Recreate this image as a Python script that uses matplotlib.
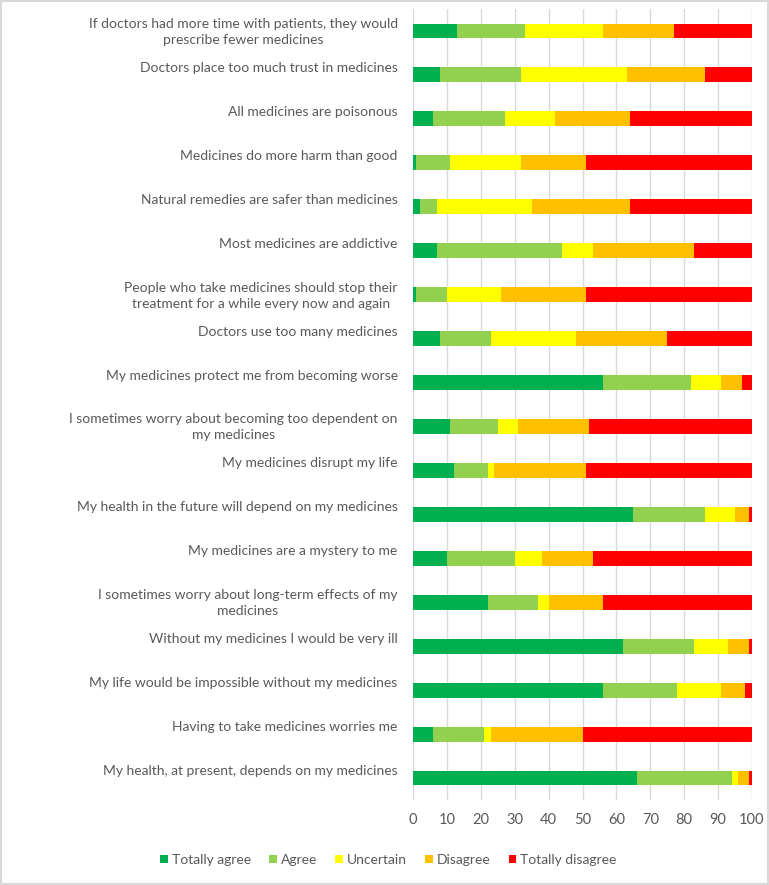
import matplotlib
matplotlib.use("Agg")
import matplotlib.pyplot as plt
from matplotlib.patches import Rectangle
from matplotlib.transforms import ScaledTranslation
import numpy as np

# statements, top to bottom as shown in the chart
statements = [
    "If doctors had more time with patients, they would\nprescribe fewer medicines",
    "Doctors place too much trust in medicines",
    "All medicines are poisonous",
    "Medicines do more harm than good",
    "Natural remedies are safer than medicines",
    "Most medicines are addictive",
    "People who take medicines should stop their\ntreatment for a while every now and again",
    "Doctors use too many medicines",
    "My medicines protect me from becoming worse",
    "I sometimes worry about becoming too dependent on\nmy medicines",
    "My medicines disrupt my life",
    "My health in the future will depend on my medicines",
    "My medicines are a mystery to me",
    "I sometimes worry about long-term effects of my\nmedicines",
    "Without my medicines I would be very ill",
    "My life would be impossible without my medicines",
    "Having to take medicines worries me",
    "My health, at present, depends on my medicines",
]

totally_agree = [13, 8, 6, 1, 2, 7, 1, 8, 56, 11, 12, 65, 10, 22, 62, 56, 6, 66]
agree = [20, 24, 21, 10, 5, 37, 9, 15, 26, 14, 10, 21, 20, 15, 21, 22, 15, 28]
uncertain = [23, 31, 15, 21, 28, 9, 16, 25, 9, 6, 2, 9, 8, 3, 10, 13, 2, 2]
disagree = [21, 23, 22, 19, 29, 30, 25, 27, 6, 21, 27, 4, 15, 16, 6, 7, 27, 3]
totally_disagree = [23, 14, 36, 49, 36, 17, 49, 25, 3, 48, 49, 1, 47, 44, 1, 2, 50, 1]

series_names = ["Totally agree", "Agree", "Uncertain", "Disagree", "Totally disagree"]
colors = ["#00B050", "#92D050", "#FFFF00", "#FFC000", "#FF0000"]

plt.rcParams['font.family'] = ['Lato', 'DejaVu Sans']
grey = "#595959"

fig = plt.figure(figsize=(7.69, 8.85), dpi=100)
ax = fig.add_axes([413 / 769, 1 - 800 / 885, (752 - 413) / 769, (800 - 9) / 885])

y = np.arange(len(statements))
left = np.zeros(len(statements))
for name, vals, c in zip(series_names, [totally_agree, agree, uncertain, disagree, totally_disagree], colors):
    vals = np.array(vals, dtype=float)
    ax.barh(y, vals, left=left, height=0.34, color=c, label=name, zorder=3)
    left += vals

ax.set_xlim(0, 100)
ax.set_ylim(len(statements) - 0.5, -0.5)
ax.set_xticks(np.arange(0, 101, 10))
ax.grid(axis="x", color="#D9D9D9", linewidth=1, zorder=0)
for s in ax.spines.values():
    s.set_visible(False)

ax.tick_params(axis="y", length=0, pad=11, labelsize=10, labelcolor=grey)
ax.tick_params(axis="x", length=0, pad=9, labelsize=10.5, labelcolor=grey)

# single line labels sit on the upper line of a two-line block, like Excel does
ax.set_yticks(y)
ax.set_yticklabels([s if "\n" in s else s + "\n" for s in statements])
shift = ScaledTranslation(0, 2 / 100, fig.dpi_scale_trans)
for lab in ax.get_yticklabels():
    lab.set_multialignment("center")
    lab.set_linespacing(1.4)
    lab.set_transform(lab.get_transform() + shift)

fig.legend(loc="center", bbox_to_anchor=(0.505, 1 - 860 / 885), ncol=5, frameon=False,
           handlelength=0.55, handleheight=0.55, handletextpad=0.3, columnspacing=1.3,
           labelcolor=grey, fontsize=10)

fig.patches.append(Rectangle((0.001, 0.001), 0.998, 0.998, transform=fig.transFigure,
                             fill=False, edgecolor="#D9D9D9", linewidth=1.5))

fig.savefig("out.png", dpi=100)
